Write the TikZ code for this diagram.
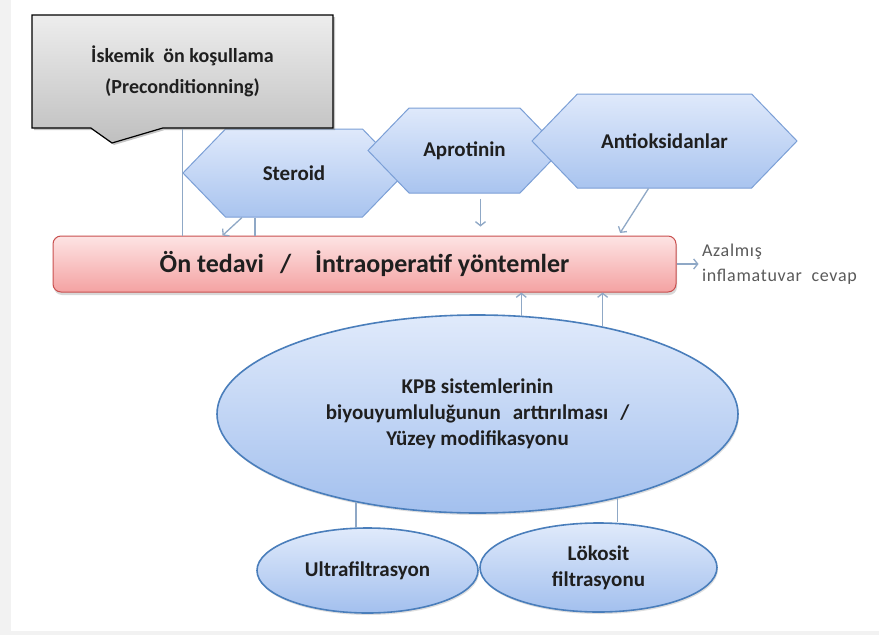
\documentclass[tikz,border=0pt]{standalone}
\usepackage{fontspec}
\setmainfont{Carlito}
\usetikzlibrary{positioning,shapes.geometric,shapes.symbols,shapes.callouts,shadows,arrows.meta}
\definecolor{hexline}{HTML}{7B9FD6}
\definecolor{hextop}{HTML}{DFE9FB}
\definecolor{hexbot}{HTML}{A9C4EF}
\definecolor{ovalline}{HTML}{4A7EBB}
\definecolor{ovaltop}{HTML}{E0EAFB}
\definecolor{ovalbot}{HTML}{A3C0EE}
\definecolor{barline}{HTML}{C9504F}
\definecolor{bartop}{HTML}{FDE4E4}
\definecolor{barbot}{HTML}{F4A2A2}
\definecolor{linkcol}{HTML}{8FA8C6}
\definecolor{txtgray}{HTML}{5A5A5A}

\begin{document}
\begin{tikzpicture}[x=1pt, y=-1pt,
        lbl/.style={font=\bfseries\fontsize{21}{26}\selectfont, text=black!88, align=center},
        hexbox/.style={lbl, signal, signal to=east and west, signal pointer angle=92,
            draw=hexline, line width=1pt, top color=hextop, bottom color=hexbot, inner sep=0pt},
        ovalbox/.style={lbl, ellipse, draw=ovalline, line width=1.6pt, top color=ovaltop,
            bottom color=ovalbot, inner sep=0pt,
            drop shadow={shadow xshift=1pt, shadow yshift=-2pt, opacity=.25}},
        barbox/.style={lbl, font=\bfseries\fontsize{26}{30}\selectfont, rectangle, rounded corners=8pt,
            draw=barline, line width=1pt, top color=bartop, bottom color=barbot,
            minimum width=623pt, minimum height=56pt,
            drop shadow={shadow xshift=1pt, shadow yshift=-3pt, opacity=.3}},
        callbox/.style={lbl, font=\bfseries\fontsize{20}{31}\selectfont, rectangle callout,
            draw=black, line width=1.2pt, top color=black!7, bottom color=black!25,
            minimum width=301pt, minimum height=113pt, callout pointer width=72pt,
            drop shadow={shadow xshift=2pt, shadow yshift=-2pt, opacity=.45}},
        outtxt/.style={font=\fontsize{18}{25}\selectfont\addfontfeature{LetterSpace=4}, text=txtgray, align=left},
        link/.style={draw=linkcol, line width=1.3pt},
        arr/.style={link, -{Straight Barb[length=4pt, width=10pt]}}]
    \useasboundingbox (0,0) rectangle (879,635);
    \fill[white] (0,0) rectangle (879,635);
    \fill[black!5] (0,0) rectangle (11,635);
    \fill[black!5] (0,631) rectangle (879,635);

    \node [hexbox, minimum width=222pt, minimum height=88pt] (steroid) at (294,173) {Steroid};
    \node [hexbox, minimum width=193pt, minimum height=85pt] (aprot) at (464.5,150.5) {Aprotinin};
    \node [hexbox, minimum width=265pt, minimum height=94pt] (antiox) at (664.5,141) {Antioksidanlar};
    \node [barbox] (bar) at (364.5,264) {Ön tedavi\hspace{16pt}/\hspace{24pt}İntraoperatif yöntemler};
    \node [outtxt, right=22pt of bar] (result) {Azalmış\\inflamatuvar\ \ cevap};
    \node [ovalbox, minimum width=521pt, minimum height=198pt] (kpb) at (477.5,414)
        {KPB sistemlerinin\\biyouyumluluğunun\hspace{12pt}arttırılması\hspace{12pt}/\\Yüzey modifikasyonu};
    \node [ovalbox, minimum width=221pt, minimum height=85pt] (ultra) at (367.5,570.5) {Ultrafiltrasyon};
    \node [ovalbox, minimum width=237pt, minimum height=89pt] (leuko) at (598.5,567.5) {Lökosit\\filtrasyonu};
    \node [callbox, callout absolute pointer={(112,143)}] (precond) at (182.5,71.5)
        {İskemik\ \ ön koşullama\\(Preconditionning)};

    \draw [link] (precond.south) -- (precond.south |- bar.north);
    \draw [link] ([xshift=-39pt]steroid.south) -- ([xshift=-39pt]steroid.south |- bar.north);
    \draw [arr] ([xshift=-52pt]steroid.south) -- ([xshift=-142pt]bar.north);
    \draw [arr, shorten <=5pt, shorten >=9pt] ([xshift=16pt]aprot.south) -- ([xshift=16pt]aprot.south |- bar.north);
    \draw [arr, shorten >=3pt] ([xshift=-16pt]antiox.south) -- ([xshift=254pt]bar.north);
    \draw [arr] (bar.east) -- (result.west);
    \draw [arr] (kpb.66) -- (kpb.66 |- bar.south);
    \draw [arr] (kpb.35) -- (kpb.35 |- bar.south);
    \draw [link] (kpb.216) -- (kpb.216 |- ultra.north);
    \draw [link] (kpb.329) -- (kpb.329 |- leuko.north);
\end{tikzpicture}
\end{document}
